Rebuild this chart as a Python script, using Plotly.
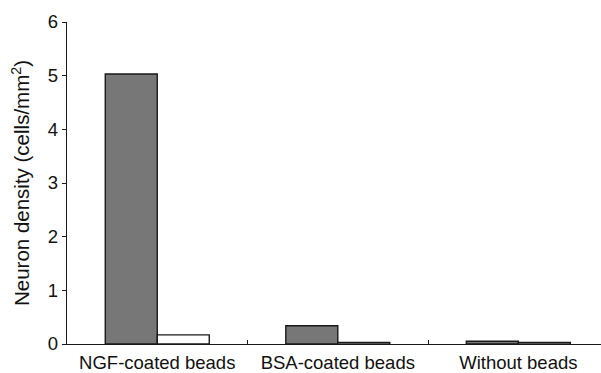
import plotly.graph_objects as go

categories = ["NGF-coated beads", "BSA-coated beads", "Without beads"]
series_dark = [5.03, 0.34, 0.05]
series_light = [0.17, 0.03, 0.03]
y_ticks = [0, 1, 2, 3, 4, 5, 6]

font_family = "Arial, 'Liberation Sans', Helvetica, sans-serif"
line_col = "#1a1a1a"

fig = go.Figure()
fig.add_trace(go.Bar(
    x=categories, y=series_dark, name="dark",
    marker=dict(color="#777777", line=dict(color=line_col, width=1.4)),
))
fig.add_trace(go.Bar(
    x=categories, y=series_light, name="light",
    marker=dict(color="#ffffff", line=dict(color=line_col, width=1.4)),
))

fig.update_layout(
    width=601, height=373,
    margin=dict(l=67, r=0, t=22, b=29),
    paper_bgcolor="white", plot_bgcolor="white",
    barmode="group", bargap=0.424, bargroupgap=0,
    showlegend=False,
    font=dict(family=font_family, size=18, color="#111111"),
)
fig.update_xaxes(
    type="category", range=[-0.5, 2.458], automargin=False,
    showline=True, linecolor=line_col, linewidth=1.4,
    ticks="inside", tickson="boundaries", ticklen=4, tickcolor=line_col, tickwidth=1.4,
    showgrid=False, zeroline=False,
    tickfont=dict(size=18.5), ticklabelstandoff=2,
)
fig.update_yaxes(
    range=[0, 6], tickvals=y_ticks, automargin=False,
    showline=True, linecolor=line_col, linewidth=1.4,
    ticks="outside", ticklen=4, tickcolor=line_col, tickwidth=1.4,
    showgrid=False, zeroline=False,
    tickfont=dict(size=18.5),
    title=dict(text="Neuron density (cells/mm<sup>2</sup>)", font=dict(size=20.5), standoff=12),
)

fig.write_html(
    "out.html",
    config={"displayModeBar": False},
    post_script="document.body.style.margin='0';document.body.style.overflow='hidden';",
)
